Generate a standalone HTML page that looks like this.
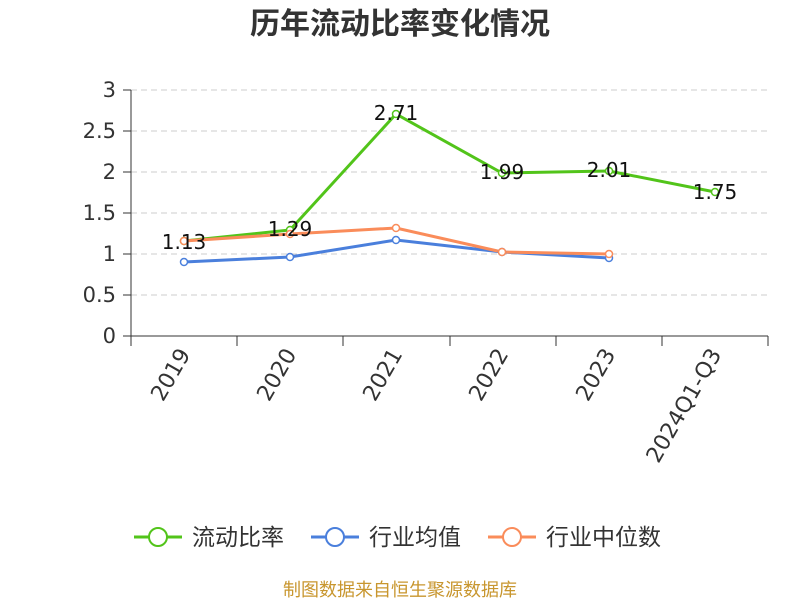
<!DOCTYPE html>
<html><head><meta charset="utf-8"><style>
body{margin:0;background:#fff;}
svg text{font-family:"DejaVu Sans","Noto Sans CJK SC",sans-serif;}
</style></head><body>
<svg width="800" height="600" xmlns="http://www.w3.org/2000/svg">
<text x="400" y="34" text-anchor="middle" font-size="30" font-weight="bold" fill="#333" style="font-family:'Noto Sans CJK SC',sans-serif">历年流动比率变化情况</text>
<g stroke="#ccc" stroke-dasharray="6,4" stroke-width="1">
<line x1="131" y1="90" x2="768" y2="90"/><line x1="131" y1="131" x2="768" y2="131"/>
<line x1="131" y1="172" x2="768" y2="172"/><line x1="131" y1="213" x2="768" y2="213"/>
<line x1="131" y1="254" x2="768" y2="254"/><line x1="131" y1="295" x2="768" y2="295"/>
</g>
<g stroke="#333" stroke-width="1">
<line x1="131" y1="90" x2="131" y2="336"/><line x1="131" y1="336" x2="768" y2="336"/>
<line x1="123" y1="90" x2="131" y2="90"/><line x1="123" y1="131" x2="131" y2="131"/><line x1="123" y1="172" x2="131" y2="172"/><line x1="123" y1="213" x2="131" y2="213"/><line x1="123" y1="254" x2="131" y2="254"/><line x1="123" y1="295" x2="131" y2="295"/><line x1="123" y1="336" x2="131" y2="336"/>
<line x1="131" y1="336" x2="131" y2="346"/><line x1="237" y1="336" x2="237" y2="346"/><line x1="343" y1="336" x2="343" y2="346"/><line x1="450" y1="336" x2="450" y2="346"/><line x1="556" y1="336" x2="556" y2="346"/><line x1="662" y1="336" x2="662" y2="346"/><line x1="768" y1="336" x2="768" y2="346"/>
</g>
<g font-size="21" fill="#333" text-anchor="end">
<text x="116" y="97">3</text><text x="116" y="138">2.5</text><text x="116" y="179">2</text><text x="116" y="220">1.5</text><text x="116" y="261">1</text><text x="116" y="302">0.5</text><text x="116" y="343">0</text>
</g>
<g font-size="22" fill="#333" text-anchor="end">
<text transform="translate(191,354) rotate(-60)">2019</text>
<text transform="translate(297,354) rotate(-60)">2020</text>
<text transform="translate(403,354) rotate(-60)">2021</text>
<text transform="translate(509,354) rotate(-60)">2022</text>
<text transform="translate(616,354) rotate(-60)">2023</text>
<text transform="translate(722,354) rotate(-60)">2024Q1-Q3</text>
</g>
<polyline fill="none" stroke="#52c41a" stroke-width="3" points="184,241 290,230 396,114 502,173 609,171 715,192"/>
<polyline fill="none" stroke="#4a7fdc" stroke-width="3" points="184,262 290,257 396,240 502,252 609,258"/>
<polyline fill="none" stroke="#fa8c5a" stroke-width="3" points="184,241 290,234 396,228 502,252 609,254"/>
<g fill="#fff" stroke-width="1.5">
<g stroke="#52c41a"><circle cx="184" cy="241" r="3.5"/><circle cx="290" cy="230" r="3.5"/><circle cx="396" cy="114" r="3.5"/><circle cx="502" cy="173" r="3.5"/><circle cx="609" cy="171" r="3.5"/><circle cx="715" cy="192" r="3.5"/></g>
<g stroke="#4a7fdc"><circle cx="184" cy="262" r="3.5"/><circle cx="290" cy="257" r="3.5"/><circle cx="396" cy="240" r="3.5"/><circle cx="502" cy="252" r="3.5"/><circle cx="609" cy="258" r="3.5"/></g>
<g stroke="#fa8c5a"><circle cx="184" cy="241" r="3.5"/><circle cx="290" cy="234" r="3.5"/><circle cx="396" cy="228" r="3.5"/><circle cx="502" cy="252" r="3.5"/><circle cx="609" cy="254" r="3.5"/></g>
</g>
<g font-size="20" fill="#111" text-anchor="middle">
<text x="184" y="249">1.13</text><text x="290" y="236">1.29</text><text x="396" y="120">2.71</text><text x="502" y="179">1.99</text><text x="609" y="177">2.01</text><text x="715" y="199">1.75</text>
</g>
<g font-size="23" fill="#333">
<line x1="134" y1="537" x2="182" y2="537" stroke="#52c41a" stroke-width="3"/><circle cx="158" cy="537" r="9" fill="#fff" stroke="#52c41a" stroke-width="2"/>
<text x="192" y="545">流动比率</text>
<line x1="311" y1="537" x2="359" y2="537" stroke="#4a7fdc" stroke-width="3"/><circle cx="335" cy="537" r="9" fill="#fff" stroke="#4a7fdc" stroke-width="2"/>
<text x="369" y="545">行业均值</text>
<line x1="488" y1="537" x2="536" y2="537" stroke="#fa8c5a" stroke-width="3"/><circle cx="512" cy="537" r="9" fill="#fff" stroke="#fa8c5a" stroke-width="2"/>
<text x="546" y="545">行业中位数</text>
</g>
<text x="400" y="596" text-anchor="middle" font-size="18" fill="#c8962e">制图数据来自恒生聚源数据库</text>
</svg>
</body></html>
